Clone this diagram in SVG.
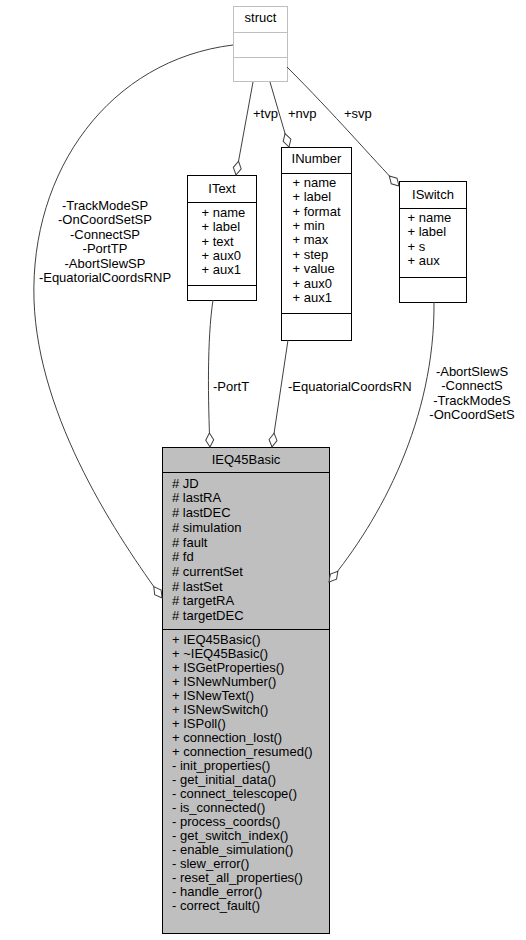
<svg xmlns="http://www.w3.org/2000/svg" width="526" height="940" viewBox="0 0 526 940">
<style>
text{font-family:"Liberation Sans",Arial,sans-serif;font-size:13px;fill:#000}
.t{text-anchor:middle}
.m{text-anchor:middle}
.box{fill:#fff;stroke:#000;stroke-width:1}
.main{fill:#bfbfbf;stroke:#000;stroke-width:1}
.ghost{fill:#fff;stroke:#bfbfbf;stroke-width:1}
.div{stroke:#000;stroke-width:1}
.gdiv{stroke:#bfbfbf;stroke-width:1}
.edge{fill:none;stroke:#404040;stroke-width:1;marker-end:url(#od)}
</style>
<defs>
<marker id="od" markerUnits="userSpaceOnUse" markerWidth="16" markerHeight="10" refX="14" refY="5" orient="auto" overflow="visible">
<path d="M0,5 L7,1 L14,5 L7,9 Z" fill="#fff" stroke="#404040" stroke-width="1"/>
</marker>
</defs>
<rect width="526" height="940" fill="#fff"/>
<g id="struct">
<rect class="ghost" x="233.5" y="6.5" width="54" height="75"/>
<line class="gdiv" x1="233.5" y1="32.5" x2="287.5" y2="32.5"/>
<line class="gdiv" x1="233.5" y1="57.5" x2="287.5" y2="57.5"/>
<text class="t" x="260.5" y="22">struct</text>
</g>
<g id="IText">
<rect class="box" x="187.5" y="175.5" width="69" height="125"/>
<line class="div" x1="187.5" y1="202.5" x2="256.5" y2="202.5"/>
<line class="div" x1="187.5" y1="285.5" x2="256.5" y2="285.5"/>
<text class="t" x="222" y="193">IText</text>
<text x="201.5" y="216.7">+ name</text>
<text x="201.5" y="231.1">+ label</text>
<text x="201.5" y="245.5">+ text</text>
<text x="201.5" y="259.9">+ aux0</text>
<text x="201.5" y="274.3">+ aux1</text>
</g>
<g id="INumber">
<rect class="box" x="281.5" y="147.5" width="70" height="193"/>
<line class="div" x1="281.5" y1="173.5" x2="351.5" y2="173.5"/>
<line class="div" x1="281.5" y1="313.5" x2="351.5" y2="313.5"/>
<text class="t" x="316.5" y="163">INumber</text>
<text x="292.5" y="186.7">+ name</text>
<text x="292.5" y="201.1">+ label</text>
<text x="292.5" y="215.5">+ format</text>
<text x="292.5" y="229.9">+ min</text>
<text x="292.5" y="244.3">+ max</text>
<text x="292.5" y="258.7">+ step</text>
<text x="292.5" y="273.1">+ value</text>
<text x="292.5" y="287.5">+ aux0</text>
<text x="292.5" y="301.9">+ aux1</text>
</g>
<g id="ISwitch">
<rect class="box" x="399.5" y="181.5" width="67" height="121"/>
<line class="div" x1="399.5" y1="208.5" x2="466.5" y2="208.5"/>
<line class="div" x1="399.5" y1="277.5" x2="466.5" y2="277.5"/>
<text class="t" x="433" y="198.5">ISwitch</text>
<text x="407.5" y="221.7">+ name</text>
<text x="407.5" y="236.2">+ label</text>
<text x="407.5" y="250.7">+ s</text>
<text x="407.5" y="265.2">+ aux</text>
</g>
<g id="IEQ45Basic">
<rect class="main" x="162.5" y="447.5" width="167" height="486"/>
<line class="div" x1="162.5" y1="472.5" x2="329.5" y2="472.5"/>
<line class="div" x1="162.5" y1="629.5" x2="329.5" y2="629.5"/>
<text class="t" x="246" y="463.5">IEQ45Basic</text>
<text x="172" y="487.7"># JD</text>
<text x="172" y="502.4"># lastRA</text>
<text x="172" y="517.1"># lastDEC</text>
<text x="172" y="531.8"># simulation</text>
<text x="172" y="546.5"># fault</text>
<text x="172" y="561.2"># fd</text>
<text x="172" y="575.9"># currentSet</text>
<text x="172" y="590.6"># lastSet</text>
<text x="172" y="605.3"># targetRA</text>
<text x="172" y="620"># targetDEC</text>
<text x="172" y="644.3">+ IEQ45Basic()</text>
<text x="172" y="658.3">+ ~IEQ45Basic()</text>
<text x="172" y="672.3">+ ISGetProperties()</text>
<text x="172" y="686.3">+ ISNewNumber()</text>
<text x="172" y="700.3">+ ISNewText()</text>
<text x="172" y="714.3">+ ISNewSwitch()</text>
<text x="172" y="728.3">+ ISPoll()</text>
<text x="172" y="742.3">+ connection_lost()</text>
<text x="172" y="756.3">+ connection_resumed()</text>
<text x="172" y="770.3">- init_properties()</text>
<text x="172" y="784.3">- get_initial_data()</text>
<text x="172" y="798.3">- connect_telescope()</text>
<text x="172" y="812.3">- is_connected()</text>
<text x="172" y="826.3">- process_coords()</text>
<text x="172" y="840.3">- get_switch_index()</text>
<text x="172" y="854.3">- enable_simulation()</text>
<text x="172" y="868.3">- slew_error()</text>
<text x="172" y="882.3">- reset_all_properties()</text>
<text x="172" y="896.3">- handle_error()</text>
<text x="172" y="910.3">- correct_fault()</text>
</g>
<g id="connectors">
<path class="edge" d="M253,82 L236,175"/>
<path class="edge" d="M270,82 L289,147"/>
<path class="edge" d="M287,67 C 335,115 372,158 399,186"/>
<path class="edge" d="M233,45 C 110,60 30,170 34,300 C 38,420 120,540 162,598"/>
<path class="edge" d="M213,300 C 207,340 208,400 210,447"/>
<path class="edge" d="M288,340 L272,447"/>
<path class="edge" d="M434,302 C 435,420 380,520 329,582"/>
<text x="253" y="118">+tvp</text>
<text x="288" y="118">+nvp</text>
<text x="344" y="118">+svp</text>
<text class="m" x="105" y="210">-TrackModeSP</text>
<text class="m" x="105" y="224.4">-OnCoordSetSP</text>
<text class="m" x="105" y="238.8">-ConnectSP</text>
<text class="m" x="105" y="253.2">-PortTP</text>
<text class="m" x="105" y="267.6">-AbortSlewSP</text>
<text class="m" x="105" y="282">-EquatorialCoordsRNP</text>
<text x="213" y="391">-PortT</text>
<text x="288" y="391">-EquatorialCoordsRN</text>
<text class="m" x="472" y="376">-AbortSlewS</text>
<text class="m" x="472" y="390.4">-ConnectS</text>
<text class="m" x="472" y="404.8">-TrackModeS</text>
<text class="m" x="472" y="419.2">-OnCoordSetS</text>
</g>
</svg>
